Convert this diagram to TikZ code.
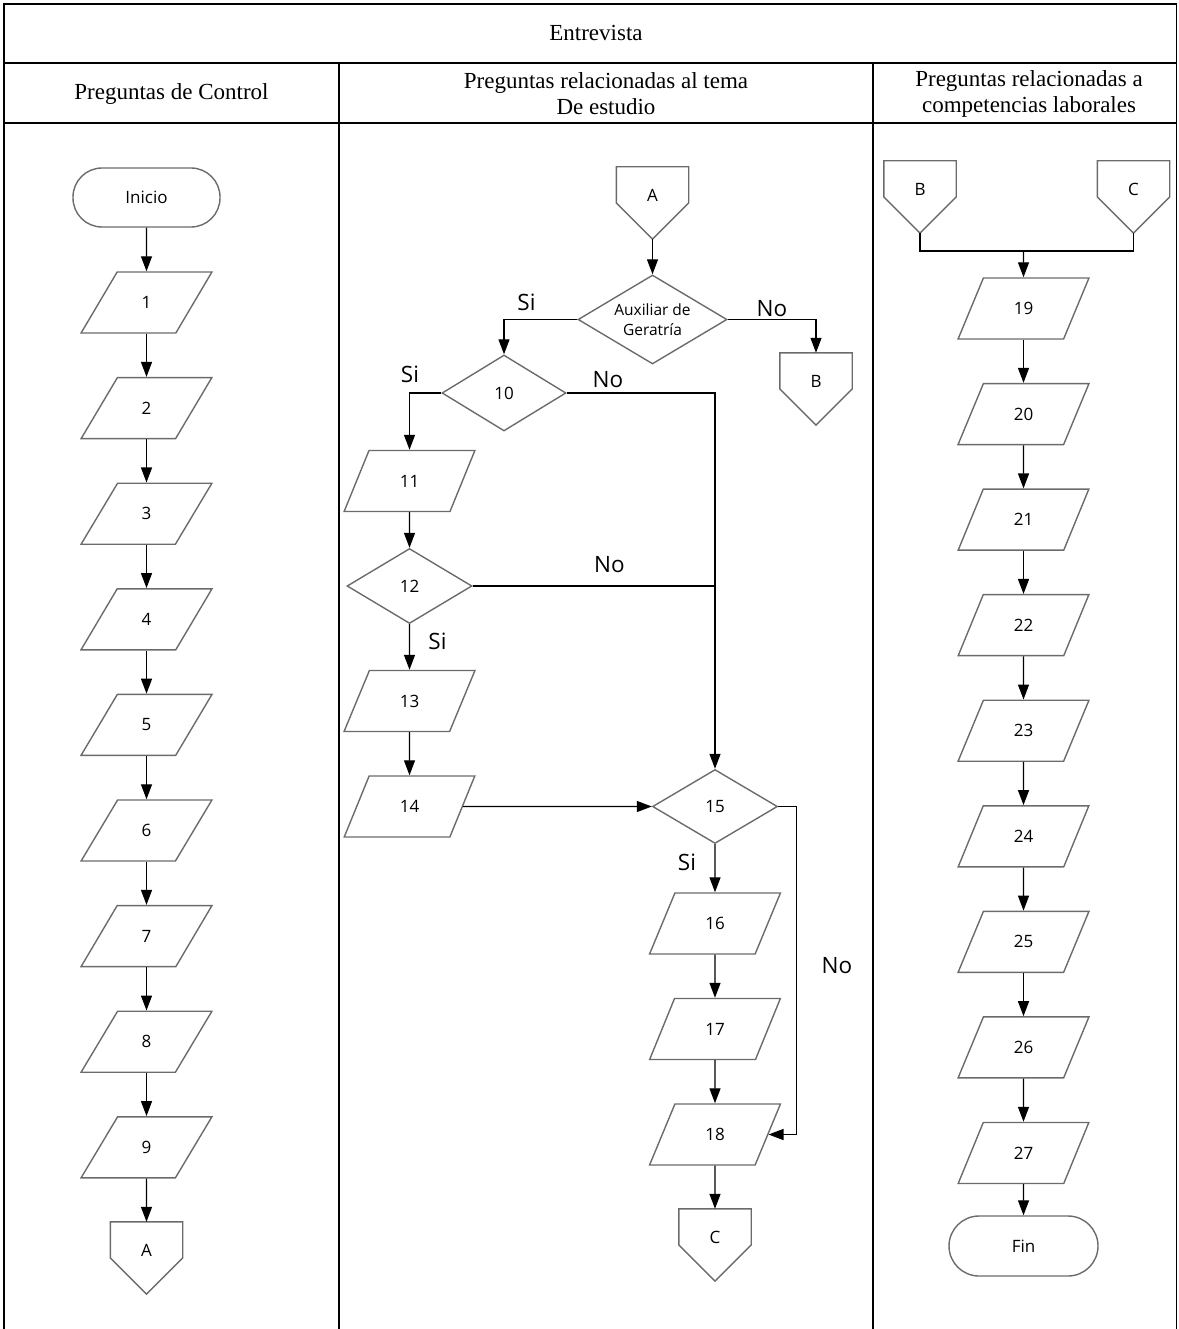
\documentclass[tikz,border=0pt]{standalone}
\usepackage{fontspec}
\setmainfont{Liberation Serif}
\newfontfamily\nodefont{Open Sans}
\usetikzlibrary{shapes.geometric,arrows.meta,calc}
\tikzset{
  frame/.style={line width=1.7pt, draw=black},
  shp/.style={draw=black!58, line width=1.4pt, inner sep=0pt, font=\nodefont\fontsize{17}{20}\selectfont},
  term/.style={shp, rectangle, rounded corners=29pt, minimum width=147pt, minimum height=59pt},
  para/.style={shp, trapezium, trapezium left angle=63.8, trapezium right angle=116.2, trapezium stretches=true, minimum width=131pt, minimum height=61pt},
  dec/.style={shp, diamond, minimum width=125pt, minimum height=75pt},
  offbox/.style={rectangle, inner sep=0pt, minimum width=72pt, minimum height=72pt},
  offline/.style={draw=black!58, line width=1.4pt},
  ntext/.style={inner sep=0pt, font=\nodefont\fontsize{17}{20}\selectfont},
  arr/.style={-{Triangle[width=11pt,length=15pt]}, line width=1.3pt},
  ln/.style={line width=1.3pt},
  lab/.style={inner sep=0pt, font=\nodefont\fontsize{22.5}{26}\selectfont},
  hdr/.style={inner sep=0pt, align=center, font=\fontsize{23}{26}\selectfont}
}
\newcommand{\offpage}[4]{%
  \node[offbox] (#1) at (#2,#3) {};
  \draw[offline] (#1.north west) -- (#1.north east) -- (#1.east) -- (#1.south) -- (#1.west) -- cycle;
  \node[ntext] (#1t) at ([yshift=8pt]#1.center) {#4};
}
\begin{document}
\begin{tikzpicture}[x=1pt,y=-1pt]
\useasboundingbox (0,0) rectangle (1178,1329);
% frame
\draw[frame] (4,1329) -- (4,4) -- (1176.5,4) -- (1176.5,1329);
\draw[frame] (4,63) -- (1176.5,63);
\draw[frame] (4,123) -- (1176.5,123);
\draw[frame] (339,63) -- (339,1329);
\draw[frame] (873,63) -- (873,1329);
% headers
\node[hdr] (hE) at (596,33) {Entrevista};
\node[hdr] (hL) at (171.5,94) {Preguntas de Control};
\node[hdr] (hM) at (606,94) {Preguntas relacionadas al tema\\De estudio};
\node[hdr] (hR) at (1029,94) {Preguntas relacionadas a\\competencias laborales};

% left column
\node[term] (ini) at (146.5,197.5) {Inicio};
\foreach \i in {1,...,9} {
  \node[para] (p\i) at (146.5,{302.5+105.6*(\i-1)}) {\i};
}
\offpage{A1}{146.5}{1258}{A}
\draw[arr] (ini.south) -- (p1.north);
\foreach \i [evaluate=\i as \j using int(\i+1)] in {1,...,8} {
  \draw[arr] (p\i.south) -- (p\j.north);
}
\draw[arr] (p9.south) -- (A1.north);

% middle column
\offpage{A2}{652.5}{203}{A}
\node[dec, minimum width=149pt, minimum height=89pt] (aux) at (652.5,319.5) {};
\node[inner sep=0pt, align=center, font=\nodefont\fontsize{15.5}{20}\selectfont] (auxt) at (aux.center) {Auxiliar de\\Geratría};
\offpage{B2}{816}{389}{B}
\node[dec, minimum width=124pt, minimum height=76pt] (d10) at (504,393) {10};
\node[para] (p11) at (409.5,481) {11};
\node[dec] (d12) at (409.5,586) {12};
\node[para] (p13) at (409.5,701) {13};
\node[para] (p14) at (409.5,806.5) {14};
\node[dec, minimum height=74pt] (d15) at (715,806.5) {15};
\node[para] (p16) at (715,923.5) {16};
\node[para] (p17) at (715,1029) {17};
\node[para] (p18) at (715,1134.5) {18};
\offpage{C2}{715}{1245}{C}

\draw[arr] (A2.south) -- (aux.north);
\draw[arr] (aux.west) -| (d10.north);
\draw[arr] (aux.east) -| (B2.north);
\draw[arr] (d10.west) -| (p11.north);
\draw[arr] (d10.east) -| (d15.north);
\draw[arr] (p11.south) -- (d12.north);
\draw[ln] (d12.east) -- (d12.east -| d15.north);
\draw[arr] (d12.south) -- (p13.north);
\draw[arr] (p13.south) -- (p14.north);
\draw[arr] (p14.east) -- (d15.west);
\draw[arr] (d15.south) -- (p16.north);
\draw[arr] (p16.south) -- (p17.north);
\draw[arr] (p17.south) -- (p18.north);
\coordinate (r15) at ($(d15.east)+(18,0)$);
\draw[arr] (d15.east) -- (r15) |- (p18.east);
\draw[arr] (p18.south) -- (C2.north);

\node[lab] (l1) at (526.5,302) {Si};
\node[lab] (l2) at (772,309) {No};
\node[lab] (l3) at (410,374) {Si};
\node[lab] (l4) at (608,380) {No};
\node[lab] (l5) at (609.5,565) {No};
\node[lab] (l6) at (437.5,641) {Si};
\node[lab] (l7) at (687,862) {Si};
\node[lab] (l8) at (837,966) {No};

% right column
\offpage{B3}{920}{197}{B}
\offpage{C3}{1133.5}{197}{C}
\foreach \i [evaluate=\i as \y using {308.5+105.56*(\i-19)}] in {19,...,27} {
  \node[para] (p\i) at (1023.5,\y) {\i};
}
\node[term, minimum width=149pt, minimum height=60pt, rounded corners=30pt] (fin) at (1023.5,1246) {Fin};
\coordinate (jB) at (920,251);
\coordinate (jC) at (1133.5,251);
\coordinate (jM) at (1023.5,251);
\draw[ln] (B3.south) -- (jB) -- (jC) -- (C3.south);
\draw[arr] (jM) -- (p19.north);
\foreach \i [evaluate=\i as \j using int(\i+1)] in {19,...,26} {
  \draw[arr] (p\i.south) -- (p\j.north);
}
\draw[arr] (p27.south) -- (fin.north);
\end{tikzpicture}
\end{document}
